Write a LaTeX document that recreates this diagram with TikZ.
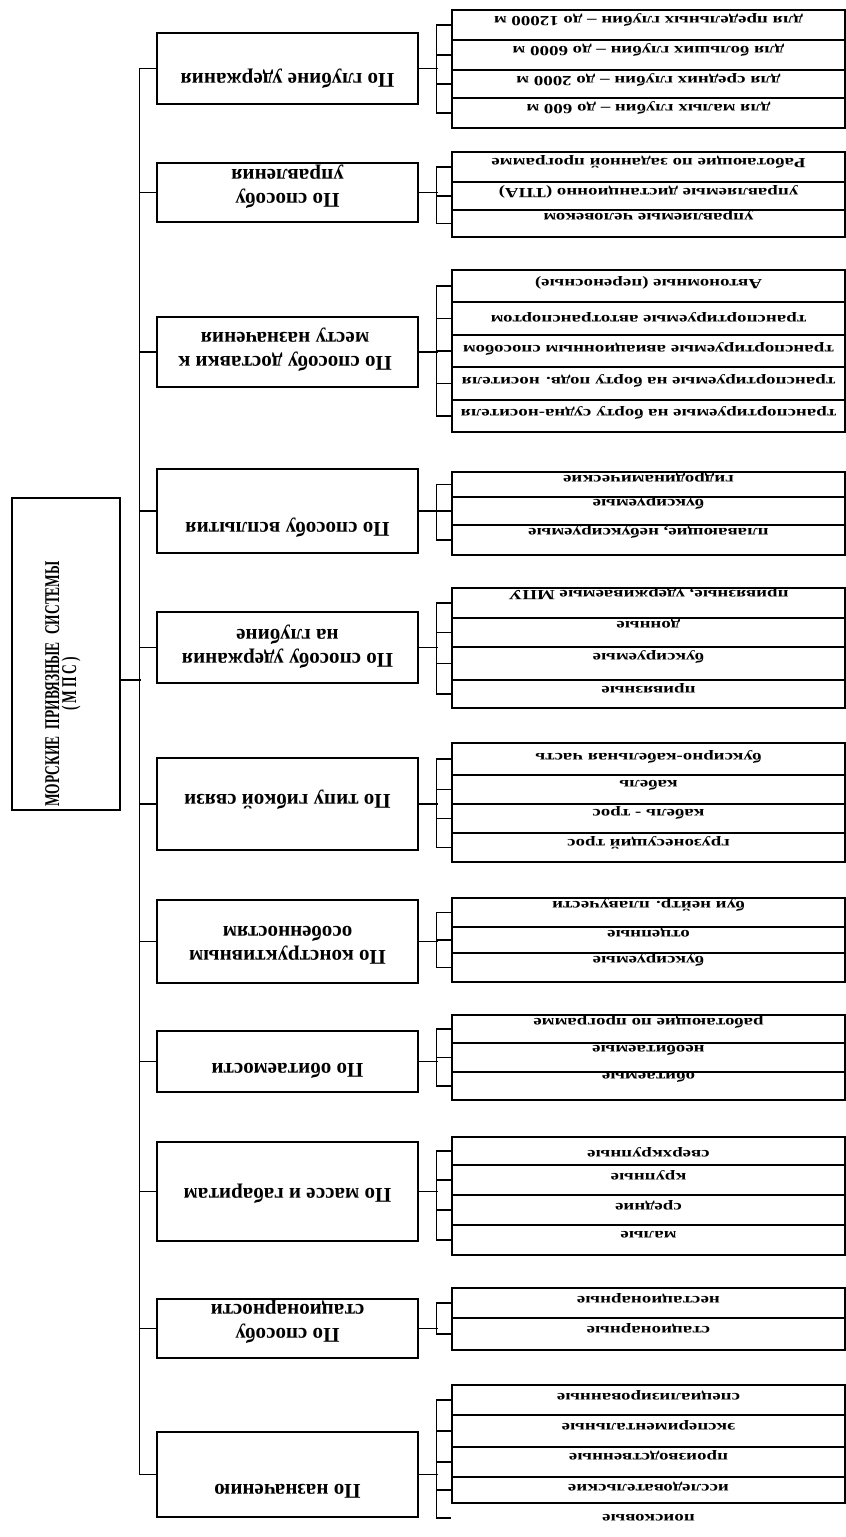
\documentclass[tikz,border=0pt]{standalone}
\usepackage{fontspec}
\setmainfont{Liberation Serif}
\newfontfamily\itemfont[FakeStretch=1.35]{Liberation Serif}
\newfontfamily\titlefont[FakeStretch=0.64,WordSpace=2.2]{Liberation Serif}
\begin{document}
\begin{tikzpicture}[x=1pt, y=-1pt, line width=1.2pt,
  mainbox/.style={draw, minimum width=108, minimum height=312, inner sep=0pt},
  catbox/.style={draw, minimum width=261, inner sep=0pt},
  strip/.style={draw, minimum width=393, inner sep=0pt},
  cattext/.style={rotate=180, align=center, font=\fontsize{21}{24}\selectfont\bfseries},
  itemtext/.style={rotate=180, font=\itemfont\fontsize{14}{16}\selectfont\bfseries},
  tick/.style={line width=1.4pt}]
        \path[fill=white] (0,0) rectangle (846,1537);
        \useasboundingbox (0,0) rectangle (846,1537);

        \node[mainbox] (m) at (66,654) {};
        \node[rotate=90, align=center, font=\titlefont\fontsize{21}{17}\selectfont\bfseries] (mt) at (63,684) {МОРСКИЕ ПРИВЯЗНЫЕ СИСТЕМЫ\\{\addfontfeature{LetterSpace=14}(МПС)}};

        \node[catbox, minimum height=71] (c1)  at (287.5,68.5)  {};
        \node[catbox, minimum height=59] (c2)  at (287.5,192.5) {};
        \node[catbox, minimum height=70] (c3)  at (287.5,352)   {};
        \node[catbox, minimum height=84] (c4)  at (287.5,511)   {};
        \node[catbox, minimum height=71] (c5)  at (287.5,647.5) {};
        \node[catbox, minimum height=92] (c6)  at (287.5,804)   {};
        \node[catbox, minimum height=83] (c7)  at (287.5,941.5) {};
        \node[catbox, minimum height=61] (c8)  at (287.5,1061.5) {};
        \node[catbox, minimum height=99] (c9)  at (287.5,1191.5) {};
        \node[catbox, minimum height=59] (c10) at (287.5,1328.5) {};
        \node[catbox, minimum height=85] (c11) at (287.5,1474.5) {};

        \node[cattext] (l1)  at (287.5,79)   {По глубине удержания};
        \node[cattext] (l2)  at (287.5,187)  {По способу\\управления};
        \node[cattext] (l3)  at (285,350)    {По способу доставки к\\месту назначения};
        \node[cattext] (l4)  at (287.5,528)  {По способу всплытия};
        \node[cattext] (l5)  at (287.5,647)  {По способу удержания\\на глубине};
        \node[cattext] (l6)  at (287.5,800)  {По типу гибкой связи};
        \node[cattext] (l7)  at (287.5,945)  {По конструктивным\\особенностям};
        \node[cattext] (l8)  at (287.5,1071) {По обитаемости};
        \node[cattext] (l9)  at (287.5,1194) {По массе и габаритам};
        \node[cattext] (l10) at (287.5,1322) {По способу\\стационарности};
        \node[cattext] (l11) at (287.5,1491) {По назначению};

        \node[strip, minimum height=30] (s1a) at (648.5,25)  {};
        \node[strip, minimum height=30] (s1b) at (648.5,55)  {};
        \node[strip, minimum height=28] (s1c) at (648.5,84)  {};
        \node[strip, minimum height=30] (s1d) at (648.5,113) {};
        \node[itemtext] (t1a) at (648.5,20)  {для предельных глубин – до 12000 м};
        \node[itemtext] (t1b) at (648.5,50)  {для больших глубин – до 6000 м};
        \node[itemtext] (t1c) at (648.5,80)  {для средних глубин – до 2000 м};
        \node[itemtext] (t1d) at (648.5,108) {для малых глубин – до 600 м};

        \node[strip, minimum height=30] (s2a) at (648.5,167)   {};
        \node[strip, minimum height=28] (s2b) at (648.5,196)   {};
        \node[strip, minimum height=27] (s2c) at (648.5,223.5) {};
        \node[itemtext] (t2a) at (648.5,162) {Работающие по заданной программе};
        \node[itemtext] (t2b) at (648.5,192) {управляемые дистанционно (ТПА)};
        \node[itemtext] (t2c) at (648.5,215) {управляемые человеком};

        \node[strip, minimum height=32] (s3a) at (648.5,286)   {};
        \node[strip, minimum height=33] (s3b) at (648.5,318.5) {};
        \node[strip, minimum height=32] (s3c) at (648.5,351)   {};
        \node[strip, minimum height=33] (s3d) at (648.5,383.5) {};
        \node[strip, minimum height=32] (s3e) at (648.5,416)   {};
        \node[itemtext] (t3a) at (648.5,283) {Автономные (переносные)};
        \node[itemtext] (t3b) at (648.5,317) {транспортируемые автотранспортом};
        \node[itemtext] (t3c) at (648.5,349) {транспортируемые авиационным способом};
        \node[itemtext] (t3d) at (648.5,381) {транспортируемые на борту подв. носителя};
        \node[itemtext] (t3e) at (648.5,413) {транспортируемые на борту судна-носителя};

        \node[strip, minimum height=25] (s4a) at (648.5,484.5) {};
        \node[strip, minimum height=28] (s4b) at (648.5,511)   {};
        \node[strip, minimum height=30] (s4c) at (648.5,540)   {};
        \node[itemtext] (t4a) at (648.5,477) {гидродинамические};
        \node[itemtext] (t4b) at (648.5,503) {буксируемые};
        \node[itemtext] (t4c) at (648.5,532) {плавающие, небуксируемые};

        \node[strip, minimum height=30] (s5a) at (648.5,603)   {};
        \node[strip, minimum height=29] (s5b) at (648.5,632.5) {};
        \node[strip, minimum height=33] (s5c) at (648.5,663.5) {};
        \node[strip, minimum height=28] (s5d) at (648.5,694)   {};
        \node[itemtext] (t5a) at (648.5,594) {привязные, удерживаемые МПУ};
        \node[itemtext] (t5b) at (648.5,624) {донные};
        \node[itemtext] (t5c) at (648.5,657) {буксируемые};
        \node[itemtext] (t5d) at (648.5,688) {привязные};

        \node[strip, minimum height=32] (s6a) at (648.5,759)   {};
        \node[strip, minimum height=29] (s6b) at (648.5,789.5) {};
        \node[strip, minimum height=29] (s6c) at (648.5,818.5) {};
        \node[strip, minimum height=29] (s6d) at (648.5,847.5) {};
        \node[itemtext] (t6a) at (648.5,757) {буксирно-кабельная часть};
        \node[itemtext] (t6b) at (648.5,785) {кабель};
        \node[itemtext] (t6c) at (648.5,813) {кабель - трос};
        \node[itemtext] (t6d) at (648.5,843) {грузонесущий трос};

        \node[strip, minimum height=29] (s7a) at (648.5,912.5) {};
        \node[strip, minimum height=26] (s7b) at (648.5,940)   {};
        \node[strip, minimum height=29] (s7c) at (648.5,967.5) {};
        \node[itemtext] (t7a) at (648.5,905) {буи нейтр. плавучести};
        \node[itemtext] (t7b) at (648.5,933) {отцепные};
        \node[itemtext] (t7c) at (648.5,960) {буксируемые};

        \node[strip, minimum height=28] (s8a) at (648.5,1029)   {};
        \node[strip, minimum height=29] (s8b) at (648.5,1057.5) {};
        \node[strip, minimum height=28] (s8c) at (648.5,1086)   {};
        \node[itemtext] (t8a) at (648.5,1022) {работающие по программе};
        \node[itemtext] (t8b) at (648.5,1050) {необитаемые};
        \node[itemtext] (t8c) at (648.5,1077) {обитаемые};

        \node[strip, minimum height=28] (s9a) at (648.5,1151) {};
        \node[strip, minimum height=30] (s9b) at (648.5,1180) {};
        \node[strip, minimum height=30] (s9c) at (648.5,1210) {};
        \node[strip, minimum height=30] (s9d) at (648.5,1240) {};
        \node[itemtext] (t9a) at (648.5,1152) {сверхкрупные};
        \node[itemtext] (t9b) at (648.5,1175) {крупные};
        \node[itemtext] (t9c) at (648.5,1205) {средние};
        \node[itemtext] (t9d) at (648.5,1235) {малые};

        \node[strip, minimum height=30] (s10a) at (648.5,1303) {};
        \node[strip, minimum height=32] (s10b) at (648.5,1334) {};
        \node[itemtext] (t10a) at (648.5,1298) {нестационарные};
        \node[itemtext] (t10b) at (648.5,1328) {стационарные};

        \node[strip, minimum height=30] (s11a) at (648.5,1400) {};
        \node[strip, minimum height=32] (s11b) at (648.5,1431) {};
        \node[strip, minimum height=30] (s11c) at (648.5,1462) {};
        \node[strip, minimum height=26] (s11d) at (648.5,1490) {};
        \node[strip, draw=none, minimum height=30] (s11e) at (648.5,1518) {};
        \node[itemtext] (t11a) at (648.5,1395) {специализированные};
        \node[itemtext] (t11b) at (648.5,1425) {экспериментальные};
        \node[itemtext] (t11c) at (648.5,1455) {производственные};
        \node[itemtext] (t11d) at (648.5,1487) {исследовательские};
        \node[itemtext] (t11e) at (648.5,1518) {поисковые};

        \draw ([yshift=-26pt]m.east) -- ++(20,0);
        \draw (c1.west) -- ++(-17,0) |- (c11.west);
        \draw (c2.west) -- ++(-17,0);
        \draw (c3.west) -- ++(-17,0);
        \draw (c4.west) -- ++(-17,0);
        \draw (c5.west) -- ++(-17,0);
        \draw (c6.west) -- ++(-17,0);
        \draw (c7.west) -- ++(-17,0);
        \draw (c8.west) -- ++(-17,0);
        \draw (c9.west) -- ++(-17,0);
        \draw (c10.west) -- ++(-17,0);

        \draw[tick] (c1.east) -- ++(19,0);
        \draw[tick] (s1a.west) -- ++(-15,0) |- (s1d.west);
        \draw[tick] (s1b.west) -- ++(-15,0);
        \draw[tick] (s1c.west) -- ++(-15,0);

        \draw[tick] (c2.east) -- ++(19,0);
        \draw[tick] (s2a.west) -- ++(-15,0) |- (s2c.west);
        \draw[tick] (s2b.west) -- ++(-15,0);

        \draw[tick] (c3.east) -- ++(19,0);
        \draw[tick] (s3a.west) -- ++(-15,0) |- (s3e.west);
        \draw[tick] (s3b.west) -- ++(-15,0);
        \draw[tick] (s3c.west) -- ++(-15,0);
        \draw[tick] (s3d.west) -- ++(-15,0);

        \draw[tick] (c4.east) -- ++(19,0);
        \draw[tick] (s4a.west) -- ++(-15,0) |- (s4c.west);
        \draw[tick] (s4b.west) -- ++(-15,0);

        \draw[tick] (c5.east) -- ++(19,0);
        \draw[tick] (s5a.west) -- ++(-15,0) |- (s5d.west);
        \draw[tick] (s5b.west) -- ++(-15,0);
        \draw[tick] (s5c.west) -- ++(-15,0);

        \draw[tick] (c6.east) -- ++(19,0);
        \draw[tick] (s6a.west) -- ++(-15,0) |- (s6d.west);
        \draw[tick] (s6b.west) -- ++(-15,0);
        \draw[tick] (s6c.west) -- ++(-15,0);

        \draw[tick] (c7.east) -- ++(19,0);
        \draw[tick] (s7a.west) -- ++(-15,0) |- (s7c.west);
        \draw[tick] (s7b.west) -- ++(-15,0);

        \draw[tick] (c8.east) -- ++(19,0);
        \draw[tick] (s8a.west) -- ++(-15,0) |- (s8c.west);
        \draw[tick] (s8b.west) -- ++(-15,0);

        \draw[tick] (c9.east) -- ++(19,0);
        \draw[tick] (s9a.west) -- ++(-15,0) |- (s9d.west);
        \draw[tick] (s9b.west) -- ++(-15,0);
        \draw[tick] (s9c.west) -- ++(-15,0);

        \draw[tick] (c10.east) -- ++(19,0);
        \draw[tick] (s10a.west) -- ++(-15,0) |- (s10b.west);

        \draw[tick] (c11.east) -- ++(19,0);
        \draw[tick] (s11a.west) -- ++(-15,0) |- (s11e.west);
        \draw[tick] (s11b.west) -- ++(-15,0);
        \draw[tick] (s11c.west) -- ++(-15,0);
        \draw[tick] (s11d.west) -- ++(-15,0);
        \end{tikzpicture}
\end{document}
